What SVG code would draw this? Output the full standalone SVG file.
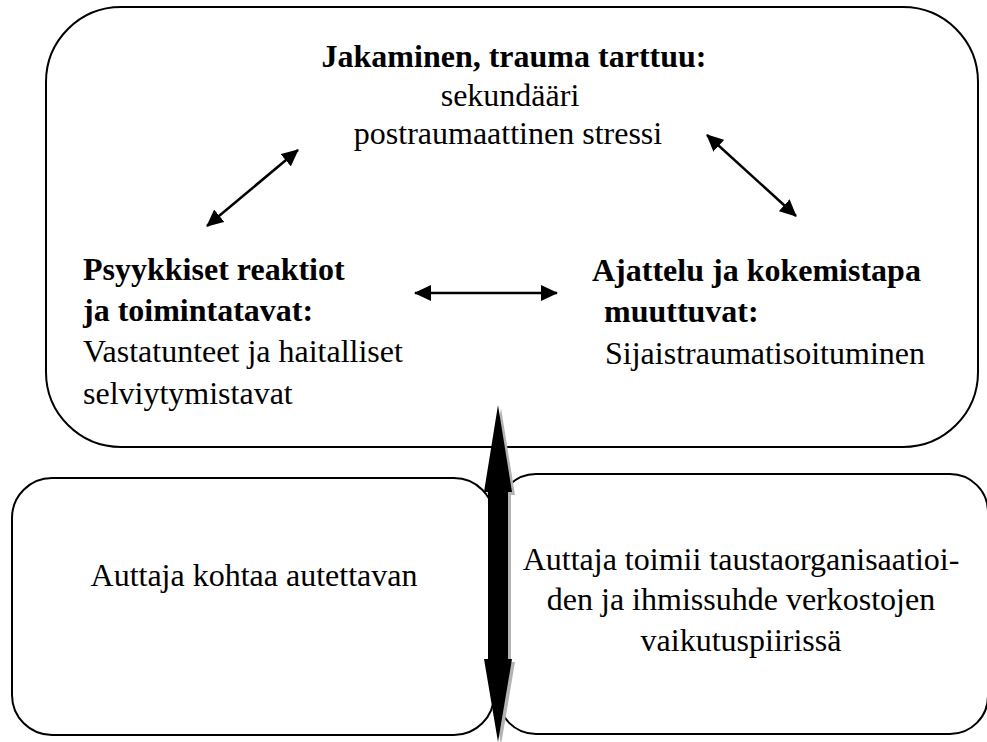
<svg xmlns="http://www.w3.org/2000/svg" width="987" height="742" viewBox="0 0 987 742">
<style>
.box{fill:none;stroke:#000;stroke-width:2}
.t{font-family:"Liberation Serif","Times New Roman",serif;font-size:32px;fill:#000}
.b{font-weight:bold}
.m{text-anchor:middle}
.c{stroke:#000;stroke-width:2.5;fill:none;marker-start:url(#ah);marker-end:url(#ah)}
</style>
<defs>
<marker id="ah" markerUnits="userSpaceOnUse" markerWidth="18" markerHeight="16" viewBox="0 0 18 16" refX="16" refY="8" orient="auto-start-reverse">
<path d="M0,0 L17,8 L0,16 z" fill="#000"/>
</marker>
</defs>
<rect width="987" height="742" fill="#fff"/>
<g id="top-node">
<rect class="box" x="46" y="7" width="932" height="440" rx="75" ry="75"/>
<text class="t b m" x="514" y="67">Jakaminen, trauma tarttuu:</text>
<text class="t m" x="510" y="106">sekundääri</text>
<text class="t m" x="508" y="144">postraumaattinen stressi</text>
</g>
<g id="left-node">
<text class="t b" x="83" y="280">Psyykkiset reaktiot</text>
<text class="t b" x="83" y="321">ja toimintatavat:</text>
<text class="t" x="83" y="362">Vastatunteet ja haitalliset</text>
<text class="t" x="83" y="404">selviytymistavat</text>
</g>
<g id="right-node">
<text class="t b" x="592" y="281">Ajattelu ja kokemistapa</text>
<text class="t b" x="604" y="322">muuttuvat:</text>
<text class="t" x="605" y="364">Sijaistraumatisoituminen</text>
</g>
<g id="bottom-left-node">
<rect class="box" x="12" y="478" width="482" height="257" rx="40" ry="40"/>
<text class="t m" x="254" y="586">Auttaja kohtaa autettavan</text>
</g>
<g id="bottom-right-node">
<rect class="box" x="498" y="474" width="490" height="260" rx="38" ry="38"/>
<text class="t m" x="741" y="570">Auttaja toimii taustaorganisaatioi-</text>
<text class="t m" x="741" y="610">den ja ihmissuhde verkostojen</text>
<text class="t m" x="741" y="651">vaikutuspiirissä</text>
</g>
<g id="connectors">
<line class="c" x1="207" y1="226" x2="298" y2="150"/>
<line class="c" x1="707" y1="135" x2="796" y2="216"/>
<line class="c" x1="415" y1="293" x2="557" y2="293"/>
<polygon points="501,408 515,495 511,495 511,662 515,662 501,745 487,662 491,662 491,495 487,495" fill="#b3b3b3"/>
<polygon points="498,405 512,492 508,492 508,659 512,659 498,742 484,659 488,659 488,492 484,492" fill="#000"/>
</g>
</svg>
